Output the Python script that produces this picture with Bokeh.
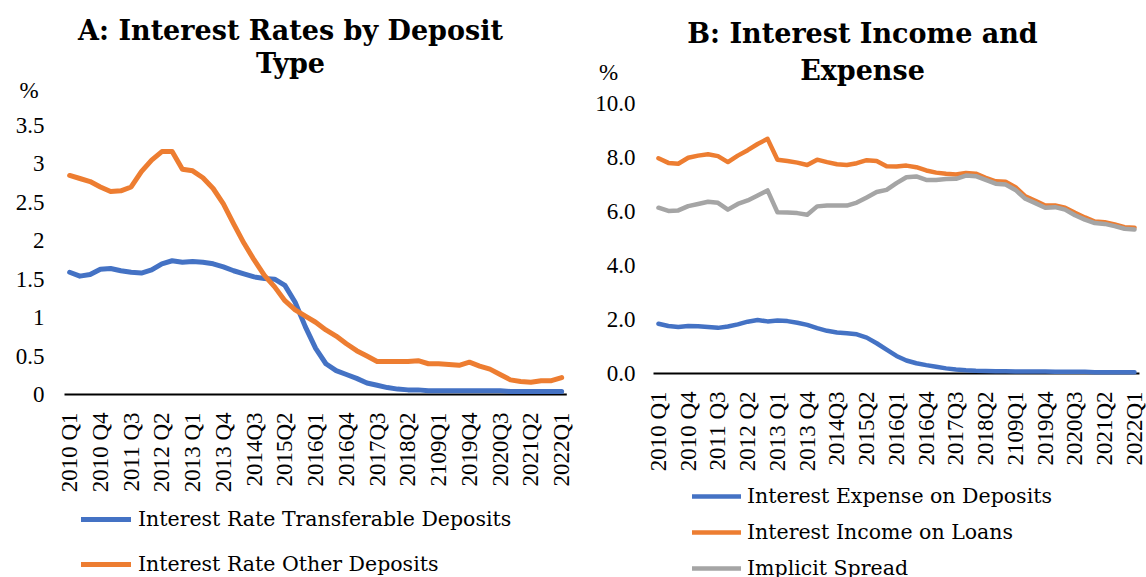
import math
from bokeh.plotting import figure
from bokeh.layouts import row
from bokeh.models import (Range1d, FixedTicker, NumeralTickFormatter, Label, Legend,
                          LegendItem, ColumnDataSource)
from bokeh.core.properties import value
from bokeh.embed import file_html
from bokeh.resources import INLINE

# ---------------- data ----------------
quarters = list(range(49))  # 2010Q1 .. 2022Q1
tick_pos = list(range(0, 49, 3))
tick_labels = ["2010 Q1", "2010 Q4", "2011 Q3", "2012 Q2", "2013 Q1", "2013 Q4",
               "2014Q3", "2015Q2", "2016Q1", "2016Q4", "2017Q3", "2018Q2",
               "2109Q1", "2019Q4", "2020Q3", "2021Q2", "2022Q1"]

# Panel A
rate_transferable = [1.59, 1.54, 1.56, 1.63, 1.64, 1.61, 1.59, 1.58, 1.62, 1.70,
                     1.74, 1.72, 1.73, 1.72, 1.70, 1.66, 1.61, 1.57, 1.53, 1.51,
                     1.50, 1.42, 1.20, 0.88, 0.60, 0.40, 0.31, 0.26, 0.21, 0.15,
                     0.12, 0.09, 0.07, 0.06, 0.06, 0.05, 0.05, 0.05, 0.05, 0.05,
                     0.05, 0.05, 0.05, 0.04, 0.04, 0.04, 0.04, 0.04, 0.04]
rate_other = [2.85, 2.81, 2.77, 2.70, 2.64, 2.65, 2.70, 2.90, 3.05, 3.16,
              3.16, 2.93, 2.91, 2.82, 2.68, 2.48, 2.22, 1.97, 1.75, 1.55,
              1.40, 1.22, 1.10, 1.02, 0.94, 0.84, 0.76, 0.66, 0.57, 0.50,
              0.43, 0.43, 0.43, 0.43, 0.44, 0.40, 0.40, 0.39, 0.38, 0.42,
              0.37, 0.33, 0.26, 0.19, 0.17, 0.16, 0.18, 0.18, 0.22]
yticks_a = [0, 0.5, 1, 1.5, 2, 2.5, 3, 3.5]

# Panel B
expense_deposits = [1.84, 1.76, 1.72, 1.76, 1.75, 1.72, 1.69, 1.74, 1.82, 1.92,
                    1.98, 1.93, 1.96, 1.94, 1.88, 1.80, 1.68, 1.58, 1.52, 1.49,
                    1.45, 1.33, 1.12, 0.88, 0.65, 0.48, 0.38, 0.31, 0.25, 0.19,
                    0.15, 0.12, 0.10, 0.09, 0.08, 0.08, 0.07, 0.07, 0.07, 0.07,
                    0.06, 0.06, 0.06, 0.06, 0.05, 0.05, 0.05, 0.05, 0.05]
income_loans = [7.97, 7.80, 7.77, 7.99, 8.07, 8.12, 8.05, 7.83, 8.07, 8.27,
                8.50, 8.69, 7.92, 7.87, 7.81, 7.72, 7.92, 7.83, 7.75, 7.72,
                7.79, 7.90, 7.87, 7.68, 7.67, 7.70, 7.64, 7.52, 7.44, 7.40,
                7.37, 7.43, 7.40, 7.25, 7.12, 7.10, 6.90, 6.56, 6.40, 6.22,
                6.22, 6.14, 5.95, 5.78, 5.63, 5.60, 5.52, 5.42, 5.40]
implicit_spread = [6.14, 6.02, 6.04, 6.20, 6.28, 6.36, 6.32, 6.07, 6.28, 6.41,
                   6.59, 6.78, 5.97, 5.96, 5.94, 5.88, 6.19, 6.22, 6.22, 6.22,
                   6.33, 6.52, 6.72, 6.80, 7.05, 7.27, 7.30, 7.17, 7.17, 7.20,
                   7.21, 7.33, 7.31, 7.17, 7.03, 7.00, 6.80, 6.47, 6.31, 6.14,
                   6.16, 6.07, 5.86, 5.70, 5.57, 5.54, 5.46, 5.36, 5.33]
yticks_b = [0, 2, 4, 6, 8, 10]

BLUE = "#4472C4"
ORANGE = "#ED7D31"
GRAY = "#A5A5A5"
FONT = "Liberation Serif"
TFONT = "DejaVu Serif"
TICK_SIZE = "23px"
LEG_SIZE = "20.5px"
NBSP = "\u00a0"


def style(p, yticks, yfmt, pct_pos, pct_pad, standoff):
    p.outline_line_color = None
    p.xgrid.visible = False
    p.ygrid.visible = False
    p.xaxis.visible = False
    ya = p.yaxis[0]
    ya.ticker = FixedTicker(ticks=yticks + [pct_pos])
    ya.formatter = NumeralTickFormatter(format=yfmt)
    ya.major_label_overrides = {pct_pos: "%" + NBSP * pct_pad}
    ya.axis_line_color = None
    ya.major_tick_line_color = None
    ya.minor_tick_line_color = None
    ya.major_tick_out = 0
    ya.major_tick_in = 0
    ya.major_label_standoff = standoff
    ya.major_label_text_font = FONT
    ya.major_label_text_font_size = TICK_SIZE
    ya.major_label_text_color = "black"
    # category axis line at zero and rotated category labels
    p.segment(x0=[-0.5], x1=[48.5], y0=[0], y1=[0], line_color="black", line_width=2)
    src = ColumnDataSource(dict(x=tick_pos, y=[0] * len(tick_pos), t=tick_labels))
    p.text(x="x", y="y", text="t", source=src, angle=math.pi / 2,
           text_align="right", text_baseline="middle", y_offset=18,
           text_font=value(FONT), text_font_size=value(TICK_SIZE), text_color="black")


def add_text(p, x, y, text, size, bold=False, align="center"):
    p.add_layout(Label(x=x, y=y, x_units="screen", y_units="screen", text=text,
                       text_font=TFONT, text_font_size=size,
                       text_font_style="bold" if bold else "normal",
                       text_align=align, text_baseline="middle", text_color="black"))


def make_legend(items, x, y, spacing, glyph_w, standoff):
    return Legend(items=items, location=(x, y), orientation="vertical",
                  padding=0, margin=0, spacing=spacing,
                  glyph_width=glyph_w, glyph_height=26, label_height=26,
                  label_standoff=standoff, label_text_font=TFONT,
                  label_text_font_size=LEG_SIZE, label_text_color="black",
                  border_line_alpha=0, background_fill_alpha=0)


# ---------------- Panel A ----------------
pa = figure(width=575, height=577, output_backend="svg", toolbar_location=None,
            x_range=Range1d(-1.866, 49.35), y_range=Range1d(-2.381, 5.126),
            min_border_left=50, min_border_right=0, min_border_top=0,
            min_border_bottom=0)
style(pa, yticks_a, "0.[0]", 3.95, 1, 6)
ra1 = pa.line(quarters, rate_transferable, color=BLUE, line_width=5,
              line_join="round", line_cap="round")
ra2 = pa.line(quarters, rate_other, color=ORANGE, line_width=5,
              line_join="round", line_cap="round")
add_text(pa, 240, 547, "A: Interest Rates by Deposit", "27px", bold=True)
add_text(pa, 240, 514, "Type", "27px", bold=True)
pa.add_layout(make_legend([LegendItem(label="Interest Rate Transferable Deposits", renderers=[ra1]),
                           LegendItem(label="Interest Rate Other Deposits", renderers=[ra2])],
                          31, 0, 19, 50, 7))

# ---------------- Panel B ----------------
pb = figure(width=571, height=577, output_backend="svg", toolbar_location=None,
            x_range=Range1d(-1.811, 49.21), y_range=Range1d(-7.556, 13.815),
            min_border_left=65, min_border_right=0, min_border_top=0,
            min_border_bottom=0)
style(pb, yticks_b, "0.0", 11.15, 3, 5)
rb1 = pb.line(quarters, expense_deposits, color=BLUE, line_width=4.5,
              line_join="round", line_cap="round")
rb2 = pb.line(quarters, income_loans, color=ORANGE, line_width=4.5,
              line_join="round", line_cap="round")
rb3 = pb.line(quarters, implicit_spread, color=GRAY, line_width=4.5,
              line_join="round", line_cap="round")
add_text(pb, 222, 544, "B: Interest Income and", "27px", bold=True)
add_text(pb, 222, 507, "Expense", "27px", bold=True)
pb.add_layout(make_legend([LegendItem(label="Interest Expense on Deposits", renderers=[rb1]),
                           LegendItem(label="Interest Income on Loans", renderers=[rb2]),
                           LegendItem(label="Implicit Spread", renderers=[rb3])],
                          52, -4, 10, 49, 6))

layout = row(pa, pb)
open("out.html", "w").write(file_html(layout, INLINE))
